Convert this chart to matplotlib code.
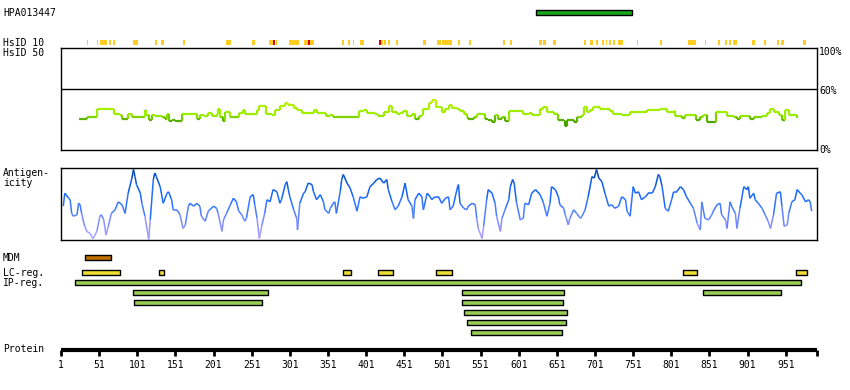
import numpy as np
import matplotlib
matplotlib.use("Agg")
import matplotlib.pyplot as plt
from matplotlib.collections import LineCollection
from matplotlib.colors import LinearSegmentedColormap, Normalize

# ---------------- data ----------------
PROTEIN_LEN = 992
antigen_name = "HPA013447"
antigen_start, antigen_end = 624, 750

hsid10_yellow_start = [35, 48, 52, 64, 69, 95, 124, 132, 161, 217, 251, 274, 283, 300, 320, 370, 377, 384,
                       393, 418, 425, 430, 440, 476, 494, 501, 521, 536, 580, 590, 628, 633, 646, 687, 695,
                       702, 710, 715, 719, 724, 731, 756, 786, 823, 845, 862, 871, 876, 882, 907, 922, 940,
                       945, 974]
hsid10_yellow_end = [36, 49, 61, 66, 72, 102, 127, 136, 164, 224, 255, 282, 284, 313, 333, 372, 380, 385,
                     398, 423, 427, 432, 443, 480, 499, 514, 524, 539, 583, 592, 631, 637, 650, 689, 698,
                     705, 713, 717, 722, 727, 738, 758, 789, 833, 847, 865, 874, 879, 887, 911, 925, 942,
                     949, 978]
hsid10_red_start = [279, 325, 418]
hsid10_red_end = [281, 327, 421]

hsid50_pos = [25, 32, 35, 46, 48, 67, 70, 78, 81, 87, 89, 94, 109, 111, 113, 116, 120, 124, 133, 137, 140,
              142, 146, 150, 157, 159, 177, 179, 183, 188, 194, 199, 205, 207, 209, 213, 216, 223, 229, 234,
              239, 242, 253, 258, 261, 266, 270, 277, 281, 288, 295, 299, 306, 310, 317, 327, 332, 336, 347,
              349, 354, 358, 376, 378, 387, 391, 398, 402, 406, 413, 417, 424, 431, 435, 441, 445, 449, 454,
              461, 465, 470, 474, 476, 483, 487, 493, 500, 505, 509, 513, 520, 524, 529, 533, 535, 542, 546,
              555, 557, 561, 566, 570, 574, 579, 583, 588, 603, 607, 614, 618, 625, 629, 633, 638, 647, 653,
              660, 662, 664, 673, 677, 684, 686, 690, 695, 699, 708, 712, 721, 725, 730, 736, 743, 747, 765,
              769, 782, 786, 791, 795, 804, 806, 815, 819, 830, 834, 839, 843, 848, 854, 859, 872, 874, 883,
              887, 891, 900, 904, 909, 920, 926, 931, 935, 942, 946, 950, 955, 959, 966]
hsid50_val = [30, 30, 32, 32, 40, 40, 35, 34, 30, 30, 35, 32, 32, 39, 34, 29, 34, 33, 32, 30, 35,
              28, 29, 28, 28, 35, 35, 30, 34, 33, 36, 33, 35, 40, 32, 28, 37, 32, 32, 36,
              39, 35, 35, 39, 43, 43, 35, 34, 39, 43, 46, 44, 41, 39, 36, 36, 39, 36, 36,
              33, 34, 32, 32, 32, 32, 38, 39, 36, 36, 35, 33, 37, 43, 37, 35, 36, 38, 33,
              35, 30, 33, 34, 40, 46, 49, 42, 37, 40, 44, 41, 40, 38, 35, 32, 30, 32, 35,
              35, 30, 29, 27, 34, 30, 32, 28, 38, 38, 35, 36, 34, 34, 40, 42, 37, 35, 29,
              28, 24, 29, 27, 32, 34, 42, 37, 39, 42, 40, 40, 38, 35, 35, 34, 34, 37, 37,
              39, 39, 40, 40, 37, 38, 33, 31, 34, 34, 29, 32, 34, 27, 27, 37, 37, 33, 32,
              30, 33, 33, 30, 32, 33, 36, 40, 37, 34, 29, 39, 34, 34, 31]

antig_pos = [4, 6, 11, 13, 15, 17, 22, 24, 26, 28, 32, 35, 39, 43, 48, 52, 54, 57, 60, 63, 67, 72, 76, 81,
             85, 89, 94, 96, 98, 100, 105, 107, 111, 116, 118, 122, 124, 126, 131, 135, 140, 142, 146, 148,
             153, 157, 161, 164, 168, 170, 175, 179, 183, 185, 190, 194, 196, 201, 205, 207, 212, 214, 218,
             223, 227, 231, 234, 238, 242, 244, 249, 253, 255, 258, 261, 264, 268, 271, 275, 279, 284, 288,
             290, 295, 297, 299, 301, 306, 310, 311, 314, 319, 321, 325, 330, 332, 336, 341, 345, 347, 352,
             354, 358, 360, 362, 367, 369, 371, 376, 380, 384, 389, 393, 397, 402, 406, 411, 415, 419, 424,
             428, 430, 435, 439, 443, 448, 452, 456, 461, 463, 465, 470, 474, 476, 481, 485, 487, 491, 496,
             500, 505, 509, 511, 515, 520, 522, 524, 529, 533, 535, 540, 544, 546, 548, 553, 555, 559, 561,
             566, 570, 572, 577, 579, 583, 588, 590, 593, 595, 598, 603, 607, 609, 614, 618, 623, 629, 633,
             638, 642, 644, 649, 653, 655, 660, 662, 666, 668, 673, 677, 682, 684, 688, 692, 697, 700, 703,
             706, 710, 714, 719, 723, 727, 732, 736, 741, 743, 747, 751, 754, 758, 762, 767, 771, 776, 780,
             784, 786, 789, 793, 797, 802, 804, 808, 813, 817, 821, 826, 830, 835, 839, 841, 845, 850, 854,
             856, 861, 865, 867, 872, 874, 878, 880, 885, 887, 891, 896, 900, 902, 904, 909, 911, 915, 920,
             924, 928, 931, 935, 939, 944, 946, 949, 953, 955, 959, 963, 966, 970, 972, 977, 981, 983, 985]
antig_val = [47, 65, 58, 56, 37, 33, 35, 51, 49, 37, 19, 12, 9, 2, 12, 33, 35, 28, 7, 19, 37, 42, 53, 49,
             37, 65, 86, 98, 88, 77, 65, 51, 33, 1, 28, 84, 93, 88, 74, 51, 65, 67, 56, 42,
             42, 35, 16, 21, 47, 51, 47, 51, 47, 33, 26, 40, 42, 47, 44, 37, 12, 28, 37,
             49, 58, 53, 40, 35, 26, 30, 60, 63, 49, 30, 2, 19, 37, 56, 53, 70, 67, 51,
             56, 77, 81, 70, 60, 42, 30, 14, 51, 65, 67, 79, 77, 67, 56, 63, 53, 42, 37,
             44, 51, 53, 37, 67, 84, 91, 79, 72, 60, 40, 60, 58, 60, 74, 79, 84, 86, 79,
             84, 70, 53, 42, 47, 60, 79, 56, 47, 30, 56, 65, 60, 42, 65, 60, 56, 60, 60,
             51, 58, 60, 42, 47, 70, 77, 51, 44, 42, 47, 51, 49, 30, 16, 2, 19, 56, 70,
             65, 51, 33, 12, 30, 42, 56, 74, 84, 79, 53, 28, 30, 51, 49, 65, 70, 63, 53,
             33, 51, 74, 70, 60, 49, 44, 35, 21, 30, 42, 37, 30, 33, 42, 60, 88, 86, 98,
             86, 81, 65, 47, 49, 44, 47, 60, 56, 40, 33, 74, 65, 67, 56, 60, 65, 65, 74,
             91, 88, 74, 44, 40, 58, 67, 67, 74, 70, 60, 51, 44, 23, 14, 53, 30, 28, 35,
             40, 49, 51, 35, 28, 16, 53, 47, 37, 16, 44, 74, 70, 74, 58, 65, 56, 51, 44,
             35, 26, 16, 35, 65, 67, 47, 19, 21, 37, 53, 56, 70, 65, 63, 53, 56, 53, 40]

mdm_start, mdm_end = [32], [66]
lc_start = [29, 129, 371, 416, 492, 816, 965]
lc_end = [78, 136, 381, 436, 513, 835, 979]
ip_start = [19, 95, 527, 843, 97, 527, 529, 533, 539]
ip_end = [971, 272, 660, 945, 265, 659, 664, 663, 658]
ip_row = [0, 1, 1, 1, 2, 2, 3, 4, 5]

tick_vals = list(range(1, 952, 50))
pct_labels = ["100%", "60%", "0%"]

# ---------------- layout ----------------
W, H = 850, 390
fig = plt.figure(figsize=(W / 100, H / 100), dpi=100)
FONT = dict(family="DejaVu Sans Mono", fontsize=7, color="black")
X0, X1 = 61, 817


def add_ax(top, bottom):
    ax = fig.add_axes([X0 / W, 1 - bottom / H, (X1 - X0) / W, (bottom - top) / H])
    ax.set_xlim(1, PROTEIN_LEN)
    ax.set_xticks([])
    ax.set_yticks([])
    return ax


def ftext(x, y, s, **kw):
    d = dict(FONT)
    d.update(kw)
    fig.text(x / W, 1 - y / H, s, va="center", **d)


def bare(ax):
    for s in ax.spines.values():
        s.set_visible(False)
    ax.patch.set_visible(False)


# antigen bar
ax = add_ax(8, 17)
bare(ax)
ax.set_ylim(0, 9)
ax.broken_barh([(antigen_start, antigen_end - antigen_start)], (2.3, 4.4),
               facecolors="#1aa61a", edgecolors="black", linewidth=1.0)

# HsID 10
ax = add_ax(40, 45)
bare(ax)
ax.set_ylim(0, 1)
ax.broken_barh([(s, max(e - s, 1.5)) for s, e in zip(hsid10_yellow_start, hsid10_yellow_end)], (0, 1),
               facecolors="#ffcc22", linewidth=0)
ax.broken_barh([(s, max(e - s, 1.5)) for s, e in zip(hsid10_red_start, hsid10_red_end)], (0, 1),
               facecolors="#e00000", linewidth=0)

# HsID 50 box
ax = add_ax(48, 150)
ax.set_ylim(0, 100)
for s in ax.spines.values():
    s.set_linewidth(1.0)
ax.axhline(60, color="black", lw=1.0)
px = np.asarray(hsid50_pos, float)
py = np.asarray(hsid50_val, float)
segs = []
cols = []
for i in range(len(px) - 1):
    segs.append([(px[i], py[i]), (px[i + 1], py[i])])
    cols.append(py[i])
    segs.append([(px[i + 1], py[i]), (px[i + 1], py[i + 1])])
    cols.append(0.5 * (py[i] + py[i + 1]))
cmap50 = LinearSegmentedColormap.from_list(
    "g", [(0.0, "#4a9f00"), (0.2, "#5fb800"), (0.33, "#99ee00"), (0.7, "#a8f000"), (1.0, "#c8ee00")])
lc = LineCollection(segs, cmap=cmap50, norm=Normalize(26, 48), linewidths=1.6, capstyle="butt")
lc.set_array(np.asarray(cols))
ax.add_collection(lc)
for lab, yy in zip(pct_labels, [52, 90.5, 150]):
    ftext(819, yy, lab)

# Antigenicity
ax = add_ax(168, 240)
ax.set_ylim(0, 100)
for s in ax.spines.values():
    s.set_linewidth(1.0)
ax2 = np.asarray(antig_pos, float)
ay2 = np.asarray(antig_val, float)
pts = np.column_stack([ax2, ay2]).reshape(-1, 1, 2)
segs = np.concatenate([pts[:-1], pts[1:]], axis=1)
cmapA = LinearSegmentedColormap.from_list("a", ["#b8a8ff", "#8f90ff", "#4a7eff", "#1a6aff", "#0a5ae0", "#0040a8"])
lcA = LineCollection(segs, cmap=cmapA, norm=Normalize(0, 100), linewidths=1.1)
lcA.set_array(0.5 * (ay2[:-1] + ay2[1:]))
ax.add_collection(lcA)

# Feature tracks
ax = add_ax(250, 340)
bare(ax)
ax.set_ylim(340, 250)
ax.broken_barh([(s, e - s) for s, e in zip(mdm_start, mdm_end)], (255.3, 5),
               facecolors="#c07000", edgecolors="black", linewidth=1.0)
ax.broken_barh([(s, e - s) for s, e in zip(lc_start, lc_end)], (270.0, 4.7),
               facecolors="#eedd33", edgecolors="black", linewidth=1.0)
for s, e, r in zip(ip_start, ip_end, ip_row):
    ax.broken_barh([(s, e - s)], (280.0 + 10 * r, 4.7),
                   facecolors="#99cc55", edgecolors="black", linewidth=1.0)

# Protein axis
ax = add_ax(349, 350)
ax.patch.set_visible(False)
for k in ["top", "left", "right"]:
    ax.spines[k].set_visible(False)
ax.spines["bottom"].set_linewidth(3.0)
ax.spines["bottom"].set_capstyle("butt")
ax.set_xticks(tick_vals + [PROTEIN_LEN])
ax.set_xticklabels([str(t) for t in tick_vals] + [""], fontfamily="DejaVu Sans Mono", fontsize=7)
ax.tick_params(axis="x", direction="out", length=4, width=2, pad=3)

# labels
ftext(3, 12.7, antigen_name)
ftext(3, 42.5, "HsID 10")
ftext(3, 53, "HsID 50")
ftext(3, 173.5, "Antigen-")
ftext(3, 183.5, "icity")
ftext(3, 257.7, "MDM")
ftext(3, 272.5, "LC-reg.")
ftext(3, 283.3, "IP-reg.")
ftext(3, 349.5, "Protein")

fig.savefig("out.png", dpi=100)
